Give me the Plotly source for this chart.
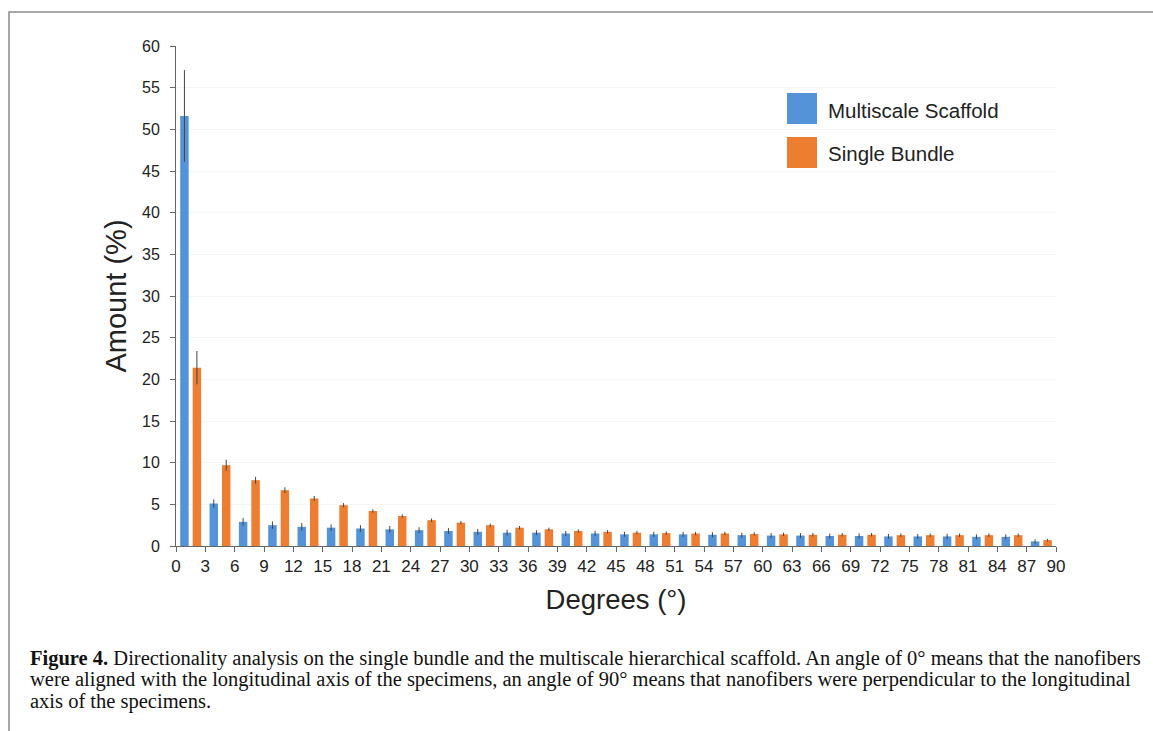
import plotly.graph_objects as go

# ---- data ----
bin_starts = list(range(0, 90, 3))
tick_labels = [str(v) for v in range(0, 91, 3)]
multiscale = [51.6, 5.1, 2.9, 2.5, 2.3, 2.2, 2.1, 2.0, 1.9, 1.8, 1.7, 1.6, 1.6, 1.5, 1.5,
              1.4, 1.4, 1.4, 1.35, 1.3, 1.25, 1.25, 1.2, 1.2, 1.15, 1.15, 1.15, 1.1, 1.1, 0.55]
multiscale_err = [5.5, 0.5, 0.45, 0.45, 0.45, 0.4, 0.4, 0.4, 0.35, 0.35, 0.35, 0.35, 0.3, 0.3, 0.3,
                  0.3, 0.3, 0.3, 0.3, 0.3, 0.3, 0.3, 0.3, 0.3, 0.3, 0.3, 0.3, 0.3, 0.3, 0.25]
single = [21.4, 9.7, 7.9, 6.7, 5.7, 4.9, 4.2, 3.6, 3.1, 2.8, 2.5, 2.2, 2.0, 1.8, 1.7,
          1.6, 1.55, 1.5, 1.5, 1.45, 1.4, 1.35, 1.35, 1.35, 1.3, 1.3, 1.3, 1.3, 1.3, 0.7]
single_err = [2.0, 0.65, 0.4, 0.35, 0.3, 0.25, 0.2, 0.2, 0.2, 0.2, 0.2, 0.2, 0.2, 0.2, 0.2,
              0.2, 0.2, 0.2, 0.2, 0.2, 0.2, 0.2, 0.2, 0.2, 0.2, 0.2, 0.2, 0.2, 0.2, 0.15]
series_names = ["Multiscale Scaffold", "Single Bundle"]
colors = ["#5593D8", "#ED7D31"]

centers = [b + 1.5 for b in bin_starts]

W, H = 1153, 731
ML, MR, MT, MB = 176, 97, 46, 185
PW, PH = W - ML - MR, H - MT - MB


def px(xp):
    return (xp - ML) / PW


def py(yp):
    return (H - MB - yp) / PH


font_sans = "Liberation Sans, Arial, sans-serif"
font_serif = "Liberation Serif, Times New Roman, serif"

fig = go.Figure()
for name, vals, errs, col in [(series_names[0], multiscale, multiscale_err, colors[0]),
                              (series_names[1], single, single_err, colors[1])]:
    fig.add_trace(go.Bar(
        x=centers, y=vals, name=name, marker=dict(color=col, line=dict(width=0)),
        error_y=dict(type="data", array=errs, visible=True, color="#444", thickness=1, width=0),
        showlegend=False,
    ))

fig.update_layout(
    width=W, height=H,
    margin=dict(l=ML, r=MR, t=MT, b=MB, autoexpand=False),
    paper_bgcolor="white", plot_bgcolor="white",
    barmode="group", bargap=0.15, bargroupgap=0.32,
    font=dict(family=font_sans, color="#222"),
)
fig.update_xaxes(
    range=[0, 90], tickmode="array", tickvals=list(range(0, 91, 3)), ticktext=tick_labels,
    showline=True, linecolor="#666", linewidth=1, ticks="outside", ticklen=5, tickcolor="#666",
    showgrid=False, zeroline=False, tickfont=dict(size=17, color="#222"),
    title=dict(text="Degrees (°)", font=dict(size=27.5, color="#222"), standoff=14),
)
fig.update_yaxes(
    range=[0, 60], dtick=5, showline=True, linecolor="#666", linewidth=1,
    ticks="outside", ticklen=5, tickcolor="#666", showgrid=True, gridcolor="#f6f6f6",
    zeroline=False, tickfont=dict(size=16, color="#222"), ticklabelstandoff=7,
    title=dict(text="Amount (%)", font=dict(size=29, color="#222"), standoff=6),
)

shapes = [
    # page frame
    dict(type="rect", xref="paper", yref="paper", x0=px(9), x1=px(1170), y0=py(760), y1=py(12),
         line=dict(color="#8a8a8a", width=1.5), fillcolor="rgba(0,0,0,0)", layer="below"),
    # legend swatches
    dict(type="rect", xref="paper", yref="paper", x0=px(787), x1=px(817), y0=py(124), y1=py(93),
         line=dict(width=0), fillcolor=colors[0]),
    dict(type="rect", xref="paper", yref="paper", x0=px(787), x1=px(817), y0=py(168), y1=py(137),
         line=dict(width=0), fillcolor=colors[1]),
]
fig.update_layout(shapes=shapes)

annotations = [
    dict(text=series_names[0], x=px(826), y=py(110), xref="paper", yref="paper",
         xanchor="left", yanchor="middle", showarrow=False, font=dict(size=20.5, color="#222")),
    dict(text=series_names[1], x=px(826), y=py(153), xref="paper", yref="paper",
         xanchor="left", yanchor="middle", showarrow=False, font=dict(size=20.5, color="#222")),
]
caption_lines = [
    "<b>Figure 4.</b> Directionality analysis on the single bundle and the multiscale hierarchical scaffold. An angle of 0° means that the nanofibers",
    "were aligned with the longitudinal axis of the specimens, an angle of 90° means that nanofibers were perpendicular to the longitudinal",
    "axis of the specimens.",
]
for i, line in enumerate(caption_lines):
    annotations.append(dict(
        text=line, x=px(28), y=py(658 + 21.5 * i), xref="paper", yref="paper",
        xanchor="left", yanchor="middle", showarrow=False,
        font=dict(family=font_serif, size=20.5, color="#111"),
    ))
fig.update_layout(annotations=annotations)

fig.write_html(
    "out.html",
    config={"displayModeBar": False},
    post_script="document.body.style.margin='0';document.body.style.overflow='hidden';",
)
